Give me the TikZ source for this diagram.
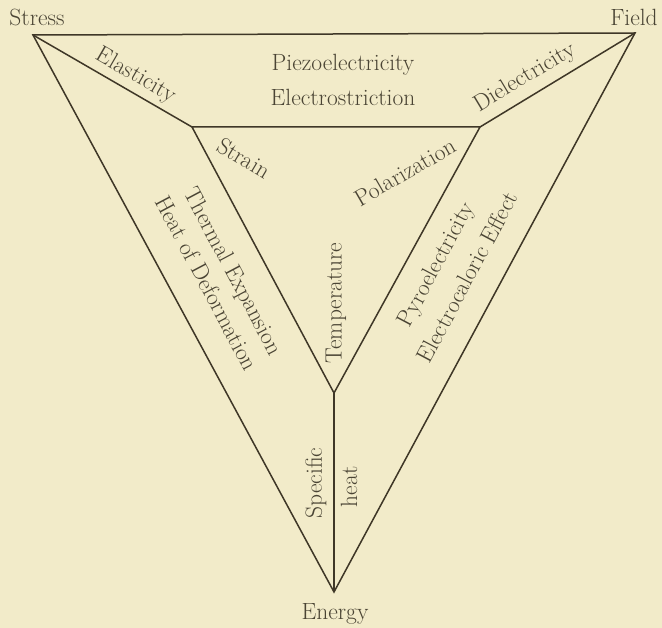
\documentclass[tikz,border=0pt]{standalone}
\usepackage{fontspec}
\definecolor{paper}{HTML}{F2EBC9}
\definecolor{ink}{HTML}{3F3727}
\definecolor{txt}{HTML}{4A4434}
\tikzset{
  edge/.style={draw=ink, line width=1.5pt, line join=miter},
  lbl/.style={text=txt, inner sep=0pt, font=\fontsize{23.5}{30}\selectfont, align=center},
}
\begin{document}
\begin{tikzpicture}[x=1pt,y=-1pt]
\fill[paper] (0,0) rectangle (662,628);
\useasboundingbox (0,0) rectangle (662,628);
% corners
\coordinate (S) at (33,35);
\coordinate (F) at (635,33);
\coordinate (E) at (334,592);
\coordinate (L) at (192,127);
\coordinate (R) at (480,127);
\coordinate (B) at (334,393);
% outer triangle
\draw[edge] (S) -- (F) -- (E) -- cycle;
% inner triangle
\draw[edge] (L) -- (R) -- (B) -- cycle;
% spokes
\draw[edge] (S) -- (L);
\draw[edge] (F) -- (R);
\draw[edge] (B) -- (E);
% corner labels
\node[lbl] (stress) at (37,17) {Stress};
\node[lbl] (field) at (634,17) {Field};
\node[lbl] (energy) at (335,614) {Energy};
% top region
\node[lbl] (piezo) at (343,65) {Piezoelectricity};
\node[lbl] (electro) at (343,97) {Electrostriction};
% spoke labels
\node[lbl, rotate=-30] (elast) at (136,76) {Elasticity};
\node[lbl, rotate=31] (diel) at (525,78) {Dielectricity};
\node[lbl, rotate=90] (spec) at (316,483) {Specific};
\node[lbl, rotate=90] (heat) at (349,487) {heat};
% inner labels
\node[lbl, rotate=-31] (strain) at (244,158) {Strain};
\node[lbl, rotate=30] (polar) at (405,172) {Polarization};
\node[lbl, rotate=90] (temp) at (336,303) {Temperature};
% side regions
\node[lbl, rotate=-62] (therm) at (232,272) {Thermal Expansion};
\node[lbl, rotate=-62] (deform) at (207,283) {Heat of Deformation};
\node[lbl, rotate=62] (pyro) at (437,265) {Pyroelectricity};
\node[lbl, rotate=62] (ecal) at (467,277) {Electrocaloric Effect};
\end{tikzpicture}
\end{document}
